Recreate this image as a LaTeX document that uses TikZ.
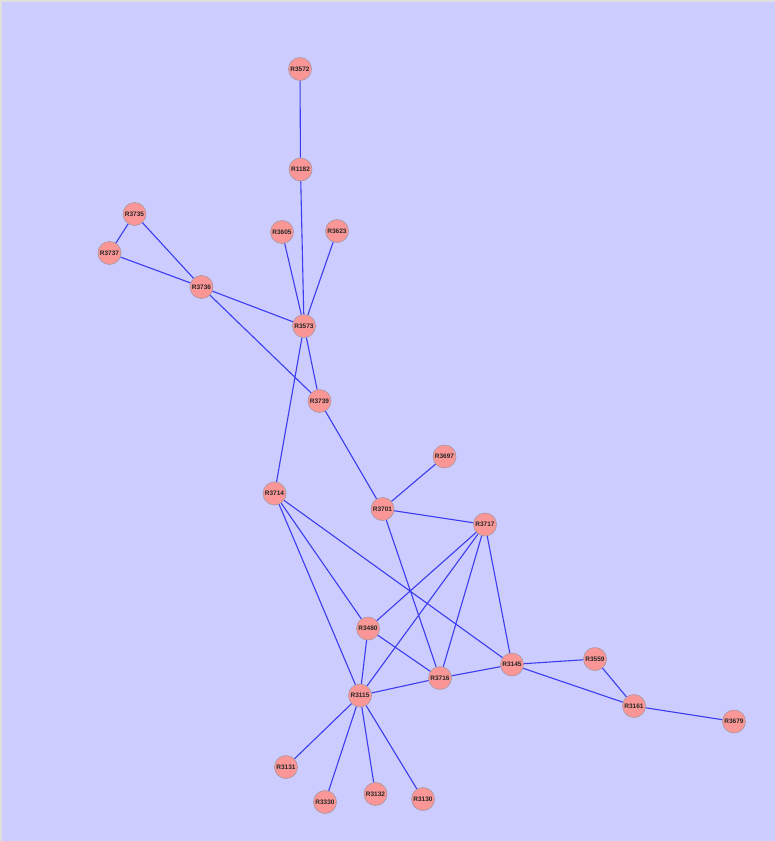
\documentclass[tikz,border=0pt]{standalone}
\usepackage{fontspec}
\setmainfont{Liberation Sans}
\definecolor{bgc}{RGB}{204,204,255}
\definecolor{nodefill}{RGB}{250,150,150}
\definecolor{nodedraw}{RGB}{170,150,160}
\definecolor{edgec}{RGB}{60,60,240}
\begin{document}
\begin{tikzpicture}[x=1pt,y=-1pt,
  rnode/.style={circle,fill=nodefill,draw=nodedraw,line width=0.6pt,minimum size=23pt,inner sep=0pt,font=\fontsize{6.5}{8}\selectfont\bfseries,text=black!85},
  edge/.style={draw=edgec,line width=1.1pt}]
\fill[bgc] (0,0) rectangle (775,841);
\useasboundingbox (0,0) rectangle (775,841);
\draw[gray!25,line width=2pt] (1,841) -- (1,1) -- (775,1);
\node[rnode] (R3572) at (300,69) {R3572};
\node[rnode] (R1182) at (300.5,169.5) {R1182};
\node[rnode] (R3605) at (282,232) {R3605};
\node[rnode] (R3623) at (337,231) {R3623};
\node[rnode] (R3735) at (134.5,214) {R3735};
\node[rnode] (R3737) at (109.5,253) {R3737};
\node[rnode] (R3736) at (201.5,287) {R3736};
\node[rnode] (R3573) at (304,326) {R3573};
\node[rnode] (R3739) at (319.5,401) {R3739};
\node[rnode] (R3697) at (444.5,456.5) {R3697};
\node[rnode] (R3714) at (274.5,493.5) {R3714};
\node[rnode] (R3701) at (382.5,509) {R3701};
\node[rnode] (R3717) at (485,524.5) {R3717};
\node[rnode] (R3480) at (368,628.5) {R3480};
\node[rnode] (R3145) at (512,664.5) {R3145};
\node[rnode] (R3559) at (595,659) {R3559};
\node[rnode] (R3716) at (440,678) {R3716};
\node[rnode] (R3115) at (360,695.5) {R3115};
\node[rnode] (R3161) at (634,706) {R3161};
\node[rnode] (R3679) at (734,721.5) {R3679};
\node[rnode] (R3131) at (286,767) {R3131};
\node[rnode] (R3330) at (325,802) {R3330};
\node[rnode] (R3132) at (375.5,794) {R3132};
\node[rnode] (R3130) at (423,799) {R3130};
\path[edge]
 (R3572) -- (R1182)
 (R1182) -- (R3573)
 (R3605) -- (R3573)
 (R3623) -- (R3573)
 (R3735) -- (R3737)
 (R3735) -- (R3736)
 (R3737) -- (R3736)
 (R3736) -- (R3573)
 (R3736) -- (R3739)
 (R3573) -- (R3739)
 (R3573) -- (R3714)
 (R3739) -- (R3701)
 (R3697) -- (R3701)
 (R3701) -- (R3717)
 (R3701) -- (R3716)
 (R3714) -- (R3480)
 (R3714) -- (R3115)
 (R3714) -- (R3145)
 (R3717) -- (R3480)
 (R3717) -- (R3115)
 (R3717) -- (R3716)
 (R3717) -- (R3145)
 (R3480) -- (R3716)
 (R3480) -- (R3115)
 (R3115) -- (R3716)
 (R3716) -- (R3145)
 (R3145) -- (R3559)
 (R3145) -- (R3161)
 (R3559) -- (R3161)
 (R3161) -- (R3679)
 (R3115) -- (R3131)
 (R3115) -- (R3330)
 (R3115) -- (R3132)
 (R3115) -- (R3130);
\end{tikzpicture}
\end{document}
